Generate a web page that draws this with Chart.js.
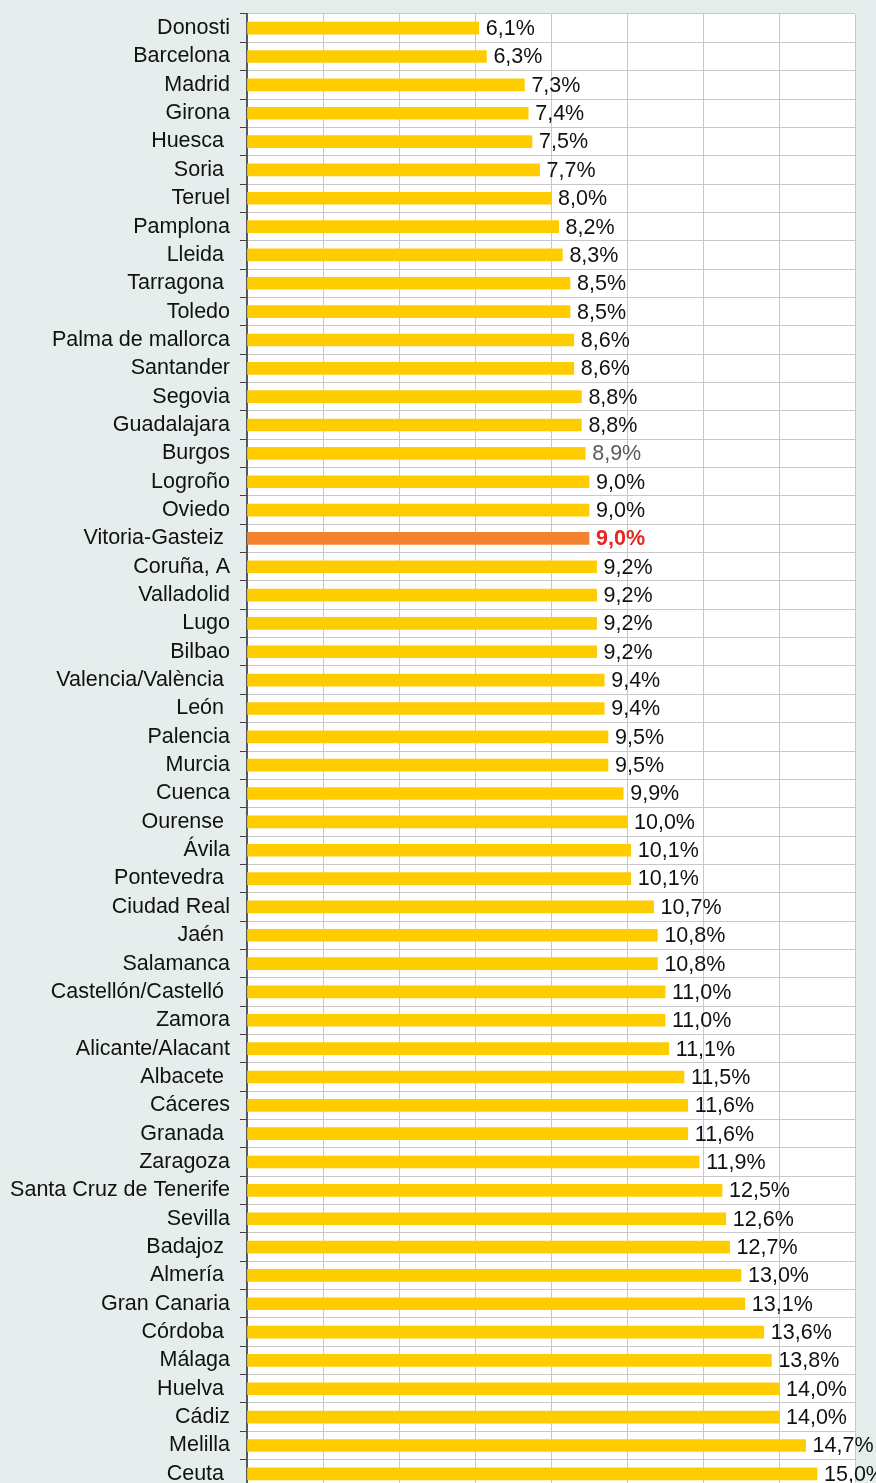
<!DOCTYPE html>
<html>
<head>
<meta charset="utf-8">
<script src="https://cdn.jsdelivr.net/npm/chart.js@4.4.0/dist/chart.umd.min.js"></script>
<style>
  html, body { margin: 0; padding: 0; background: #e5eeec; overflow: hidden; }
  #wrap { width: 876px; height: 1488px; }
</style>
</head>
<body>
<div id="wrap"><canvas id="c" width="876" height="1488"></canvas></div>
<script>
const categories = [
  "Donosti", "Barcelona", "Madrid", "Girona", "Huesca ", "Soria ", "Teruel", "Pamplona",
  "Lleida ", "Tarragona ", "Toledo", "Palma de mallorca", "Santander", "Segovia",
  "Guadalajara", "Burgos", "Logroño", "Oviedo", "Vitoria-Gasteiz ", "Coruña, A",
  "Valladolid", "Lugo", "Bilbao", "Valencia/València ", "León ", "Palencia", "Murcia",
  "Cuenca", "Ourense ", "Ávila", "Pontevedra ", "Ciudad Real", "Jaén ", "Salamanca",
  "Castellón/Castelló ", "Zamora", "Alicante/Alacant", "Albacete ", "Cáceres", "Granada ",
  "Zaragoza", "Santa Cruz de Tenerife", "Sevilla", "Badajoz ", "Almería ", "Gran Canaria",
  "Córdoba ", "Málaga", "Huelva ", "Cádiz", "Melilla", "Ceuta "
];
const values = [
  6.1, 6.3, 7.3, 7.4, 7.5, 7.7, 8.0, 8.2, 8.3, 8.5, 8.5, 8.6, 8.6, 8.8, 8.8, 8.9,
  9.0, 9.0, 9.0, 9.2, 9.2, 9.2, 9.2, 9.4, 9.4, 9.5, 9.5, 9.9, 10.0, 10.1, 10.1, 10.7,
  10.8, 10.8, 11.0, 11.0, 11.1, 11.5, 11.6, 11.6, 11.9, 12.5, 12.6, 12.7, 13.0, 13.1,
  13.6, 13.8, 14.0, 14.0, 14.7, 15.0
];
const highlightCategory = "Vitoria-Gasteiz ";
const grayLabelCategory = "Burgos";
const xTicks = [0, 2, 4, 6, 8, 10, 12, 14, 16];

const barColors = categories.map(c => c === highlightCategory ? "#f58230" : "#ffcc00");
const FONT = "'Liberation Sans', Arial, sans-serif";

const plotBg = {
  id: "plotBg",
  beforeDraw(chart) {
    const { ctx, chartArea: a } = chart;
    ctx.save();
    ctx.fillStyle = "#ffffff";
    ctx.fillRect(a.left, a.top, a.right - a.left, a.bottom - a.top);
    ctx.restore();
  }
};

const valueLabels = {
  id: "valueLabels",
  afterDatasetsDraw(chart) {
    const { ctx } = chart;
    const meta = chart.getDatasetMeta(0);
    ctx.save();
    ctx.textBaseline = "middle";
    ctx.textAlign = "left";
    meta.data.forEach((el, i) => {
      const cat = categories[i];
      const txt = values[i].toFixed(1).replace(".", ",") + "%";
      if (cat === highlightCategory) {
        ctx.font = "bold 21.5px " + FONT;
        ctx.fillStyle = "#e8261f";
      } else {
        ctx.font = "21.5px " + FONT;
        ctx.fillStyle = cat === grayLabelCategory ? "#595959" : "#111111";
      }
      ctx.fillText(txt, el.x + 7, el.y + 1);
    });
    ctx.restore();
  }
};

new Chart(document.getElementById("c"), {
  type: "bar",
  data: {
    labels: categories,
    datasets: [{
      data: values,
      backgroundColor: barColors,
      borderWidth: 0,
      barThickness: 12
    }]
  },
  options: {
    indexAxis: "y",
    responsive: false,
    animation: false,
    devicePixelRatio: 1,
    layout: { padding: { top: 14, right: 21, left: 0, bottom: 0 } },
    plugins: { legend: { display: false }, tooltip: { enabled: false } },
    scales: {
      x: {
        min: 0, max: 16,
        afterBuildTicks(s) { s.ticks = xTicks.map(v => ({ value: v })); },
        afterFit(s) { s.height = 0; s.paddingLeft = 0; s.paddingRight = 0; },
        ticks: { display: false },
        border: { display: false },
        grid: { color: "#c8c8c8", lineWidth: 1, drawTicks: false }
      },
      y: {
        afterFit(s) { s.width = 247; s.paddingTop = 0; s.paddingBottom = 0; },
        border: { display: true, color: "#595959", width: 2 },
        grid: { color: "#c8c8c8", lineWidth: 1, tickColor: "#404040", tickLength: 7, offset: true },
        ticks: {
          color: "#111111",
          padding: 10,
          autoSkip: false,
          font: { family: FONT, size: 21.5 }
        }
      }
    }
  },
  plugins: [plotBg, valueLabels]
});
</script>
</body>
</html>
